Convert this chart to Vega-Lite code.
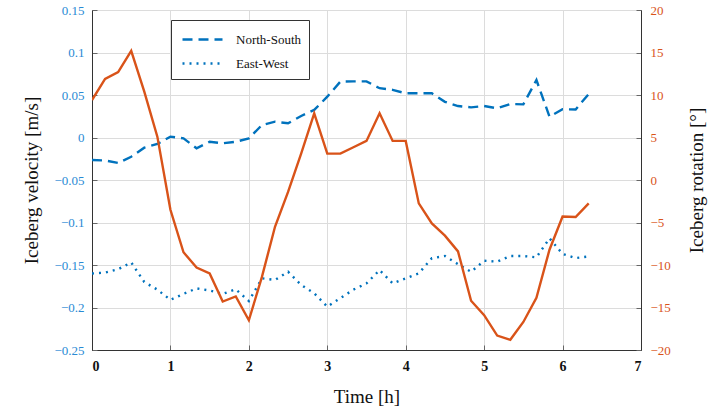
{
  "$schema": "https://vega.github.io/schema/vega-lite/v6.json",
  "autosize": {"type": "none"},
  "padding": {"left": 92, "top": 10, "right": 78, "bottom": 58},
  "width": 549,
  "height": 340,
  "background": "white",
  "config": {
    "view": {"stroke": "#333333", "strokeWidth": 1},
    "font": "Liberation Serif"
  },
  "data": {"values": [
    {"t": 0, "ns": -0.0265, "ew": -0.160, "rot": 9.4},
    {"t": 0.1667, "ns": -0.027, "ew": -0.159, "rot": 11.9},
    {"t": 0.3333, "ns": -0.030, "ew": -0.155, "rot": 12.7},
    {"t": 0.5, "ns": -0.0226, "ew": -0.147, "rot": 15.2},
    {"t": 0.6667, "ns": -0.012, "ew": -0.170, "rot": 10.4},
    {"t": 0.8333, "ns": -0.0076, "ew": -0.179, "rot": 5.1},
    {"t": 1.0, "ns": 0.001, "ew": -0.191, "rot": -3.5},
    {"t": 1.1667, "ns": -0.001, "ew": -0.184, "rot": -8.5},
    {"t": 1.3333, "ns": -0.0127, "ew": -0.1775, "rot": -10.3},
    {"t": 1.5, "ns": -0.005, "ew": -0.180, "rot": -11.0},
    {"t": 1.6667, "ns": -0.0068, "ew": -0.184, "rot": -14.3},
    {"t": 1.8333, "ns": -0.005, "ew": -0.1786, "rot": -13.7},
    {"t": 2.0, "ns": -0.001, "ew": -0.1924, "rot": -16.5},
    {"t": 2.1667, "ns": 0.0147, "ew": -0.1657, "rot": -11.4},
    {"t": 2.3333, "ns": 0.0186, "ew": -0.1676, "rot": -5.5},
    {"t": 2.5, "ns": 0.0167, "ew": -0.158, "rot": -1.4},
    {"t": 2.6667, "ns": 0.0253, "ew": -0.1735, "rot": 3.1},
    {"t": 2.8333, "ns": 0.0324, "ew": -0.1833, "rot": 7.85},
    {"t": 3.0, "ns": 0.048, "ew": -0.199, "rot": 3.1},
    {"t": 3.1667, "ns": 0.0657, "ew": -0.189, "rot": 3.1},
    {"t": 3.3333, "ns": 0.066, "ew": -0.179, "rot": 3.85},
    {"t": 3.5, "ns": 0.066, "ew": -0.1716, "rot": 4.6},
    {"t": 3.6667, "ns": 0.058, "ew": -0.156, "rot": 7.85},
    {"t": 3.8333, "ns": 0.056, "ew": -0.1716, "rot": 4.6},
    {"t": 4.0, "ns": 0.052, "ew": -0.1657, "rot": 4.6},
    {"t": 4.1667, "ns": 0.052, "ew": -0.1598, "rot": -2.75},
    {"t": 4.3333, "ns": 0.052, "ew": -0.142, "rot": -5.1},
    {"t": 4.5, "ns": 0.042, "ew": -0.1394, "rot": -6.55},
    {"t": 4.6667, "ns": 0.037, "ew": -0.149, "rot": -8.4},
    {"t": 4.8333, "ns": 0.0355, "ew": -0.158, "rot": -14.2},
    {"t": 5.0, "ns": 0.037, "ew": -0.145, "rot": -15.9},
    {"t": 5.1667, "ns": 0.0343, "ew": -0.146, "rot": -18.3},
    {"t": 5.3333, "ns": 0.0394, "ew": -0.1394, "rot": -18.8},
    {"t": 5.5, "ns": 0.039, "ew": -0.1394, "rot": -16.7},
    {"t": 5.6667, "ns": 0.0676, "ew": -0.141, "rot": -13.85},
    {"t": 5.8333, "ns": 0.0245, "ew": -0.1186, "rot": -8.2},
    {"t": 6.0, "ns": 0.0332, "ew": -0.137, "rot": -4.3},
    {"t": 6.1667, "ns": 0.033, "ew": -0.1418, "rot": -4.35},
    {"t": 6.3333, "ns": 0.0512, "ew": -0.140, "rot": -2.75}
  ]},
  "layer": [
    {
      "transform": [{"fold": ["ns", "ew"], "as": ["dir", "v"]}],
      "mark": {"type": "line", "color": "#0072BD", "strokeWidth": 2.4, "clip": true},
      "encoding": {
        "x": {"field": "t", "type": "quantitative", "scale": {"domain": [0, 7], "nice": false},
              "axis": {"orient": "bottom", "values": [0,1,2,3,4,5,6,7], "format": "d", "title": "Time [h]", "titleFont": "Liberation Serif", "titleFontWeight": "normal", "titleColor": "#111111", "titleFontSize": 19, "titlePadding": 14, "labelFont": "Liberation Serif", "labelFontSize": 14, "labelFontWeight": "bold", "labelColor": "#111111", "labelPadding": 14, "ticks": true, "tickSize": -5, "tickColor": "#666666", "domainColor": "#333333", "grid": true, "gridColor": "#dcdcdc"}},
        "y": {"field": "v", "type": "quantitative", "scale": {"domain": [-0.25, 0.15], "nice": false, "zero": false},
              "axis": {"orient": "left", "values": [-0.25,-0.2,-0.15,-0.1,-0.05,0,0.05,0.1,0.15], "format": "~g", "title": "Iceberg velocity [m/s]", "titleFont": "Liberation Serif", "titleFontWeight": "normal", "titleColor": "#111111", "titleFontSize": 19, "titlePadding": 12, "labelFont": "Liberation Serif", "labelFontSize": 13, "labelColor": "#2a8ad4", "labelPadding": 13, "ticks": true, "tickSize": -5, "tickColor": "#666666", "domainColor": "#333333", "grid": true, "gridColor": "#dcdcdc"}},
        "strokeDash": {"field": "dir", "type": "nominal",
          "scale": {"domain": ["ns", "ew"], "range": [[10, 6], [2, 5]]},
          "legend": {"orient": "none", "legendX": 79, "legendY": 10, "title": null,
            "labelExpr": "datum.value == 'ns' ? 'North-South' : 'East-West'",
            "symbolType": "M-2,0H2", "symbolSize": 400, "symbolOffset": 12, "symbolStrokeWidth": 2.6, "symbolStrokeColor": "#0072BD",
            "labelFont": "Liberation Serif", "labelFontSize": 13, "labelColor": "#111111", "labelOffset": 22,
            "strokeColor": "#333333", "fillColor": "white", "padding": 8, "rowPadding": 5}}
      }
    },
    {
      "mark": {"type": "line", "color": "#D95319", "strokeWidth": 2.4, "clip": true},
      "encoding": {
        "x": {"field": "t", "type": "quantitative", "scale": {"domain": [0, 7], "nice": false}},
        "y": {"field": "rot", "type": "quantitative", "scale": {"domain": [-20, 20], "nice": false, "zero": false},
              "axis": {"orient": "right", "values": [-20,-15,-10,-5,0,5,10,15,20], "title": "Iceberg rotation [°]", "titleAngle": 270, "titleFont": "Liberation Serif", "titleFontWeight": "normal", "titleColor": "#111111", "titleFontSize": 19, "titlePadding": 36, "labelFont": "Liberation Serif", "labelFontSize": 13, "labelColor": "#D95319", "labelPadding": 14, "ticks": true, "tickSize": -5, "tickColor": "#666666", "domainColor": "#333333", "grid": false}}
      }
    }
  ],
  "resolve": {"scale": {"y": "independent"}}
}
